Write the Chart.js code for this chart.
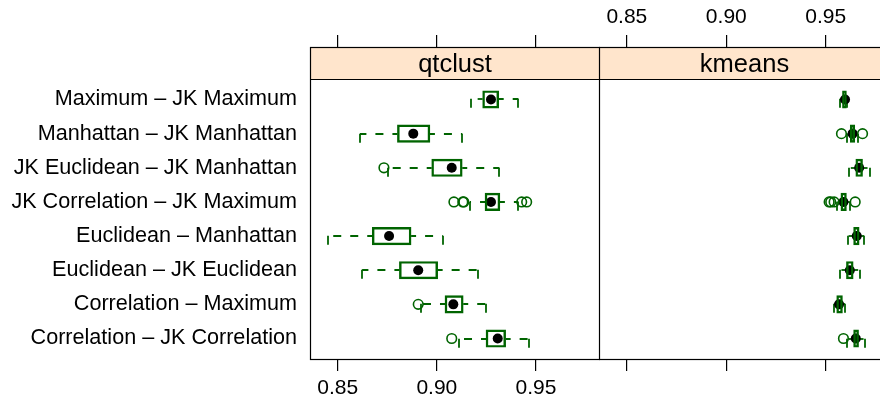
<!DOCTYPE html>
<html>
<head>
<meta charset="utf-8">
<script src="https://cdn.jsdelivr.net/npm/chart.js@4.4.1/dist/chart.umd.min.js"></script>
<style>
  html, body { margin: 0; padding: 0; background: #fff; overflow: hidden; }
  #wrap { position: relative; width: 880px; height: 409px; overflow: hidden; }
  #wrap canvas { position: absolute; top: 0; }
</style>
</head>
<body>
<div id="wrap">
  <canvas id="qtPanel" width="600" height="409" style="left:0"></canvas>
  <canvas id="kmPanel" width="290" height="409" style="left:599px"></canvas>
</div>
<script>
// Row labels, top to bottom
const pairs = [
  'Maximum – JK Maximum',
  'Manhattan – JK Manhattan',
  'JK Euclidean – JK Manhattan',
  'JK Correlation – JK Maximum',
  'Euclidean – Manhattan',
  'Euclidean – JK Euclidean',
  'Correlation – Maximum',
  'Correlation – JK Correlation'
];
const xTicks = [0.85, 0.90, 0.95];

// qtclust: whisker ends, quartiles, medians, outliers
const qtLow    = [0.9171, 0.8612, 0.8755, 0.9167, 0.8450, 0.8623, 0.8919, 0.9110];
const qtQ1     = [0.9231, 0.8801, 0.8974, 0.9243, 0.8674, 0.8811, 0.9041, 0.9248];
const qtMedian = [0.9273, 0.8881, 0.9075, 0.9273, 0.8759, 0.8906, 0.9083, 0.9307];
const qtQ3     = [0.9312, 0.8965, 0.9128, 0.9318, 0.8870, 0.9004, 0.9133, 0.9347];
const qtHigh   = [0.9411, 0.9128, 0.9315, 0.9411, 0.9030, 0.9209, 0.9246, 0.9466];
const qtOut    = [[], [], [0.8733], [0.9086, 0.9131, 0.9136, 0.9428, 0.9453], [], [], [0.8906], [0.9075]];

// kmeans
const kmLow    = [0.9572, 0.9609, 0.9618, 0.9559, 0.9614, 0.9572, 0.9542, 0.9609];
const kmQ1     = [0.9584, 0.9623, 0.9651, 0.9576, 0.9640, 0.9604, 0.9555, 0.9640];
const kmMedian = [0.9597, 0.9635, 0.9668, 0.9589, 0.9656, 0.9621, 0.9567, 0.9651];
const kmQ3     = [0.9604, 0.9646, 0.9685, 0.9604, 0.9668, 0.9638, 0.9584, 0.9665];
const kmHigh   = [0.9609, 0.9660, 0.9723, 0.9621, 0.9693, 0.9671, 0.9597, 0.9698];
const kmOut    = [[], [0.9579, 0.9685], [], [0.9517, 0.9525, 0.9542, 0.9648], [], [], [], [0.9589]];

const GREEN = '#006400';
const STRIP = '#ffe5cc';
const FONT = '"Liberation Sans", Arial, sans-serif';
const BOX_H = 17.5;

Chart.defaults.font.family = FONT;
Chart.defaults.font.size = 21;
Chart.defaults.color = '#000';

// dashed whiskers with dashed end caps
function umbrellaPlugin(lo, q1, q3, hi) {
  return {
    id: 'umbrella',
    beforeDatasetsDraw(chart) {
      const { ctx, scales: { x, y } } = chart;
      const half = BOX_H / 2;
      ctx.save();
      ctx.strokeStyle = GREEN;
      ctx.lineWidth = 1.8;
      ctx.lineCap = 'butt';
      q1.forEach((_, i) => {
        const yc = Math.round(y.getPixelForValue(i));
        [[q1[i], lo[i]], [q3[i], hi[i]]].forEach(([from, to]) => {
          const x0 = x.getPixelForValue(from);
          const x1 = x.getPixelForValue(to);
          ctx.setLineDash([8, 9]);
          ctx.lineDashOffset = 3;
          ctx.beginPath();
          ctx.moveTo(x0, yc);
          ctx.lineTo(x1, yc);
          ctx.stroke();
          // cap runs bottom to top, so only its lower half is inked
          const xc = Math.round(x1);
          ctx.setLineDash([9, 10]);
          ctx.lineDashOffset = 0;
          ctx.beginPath();
          ctx.moveTo(xc, yc + half);
          ctx.lineTo(xc, yc - half);
          ctx.stroke();
        });
      });
      ctx.restore();
    }
  };
}

// strip with panel name, plus the panel frame
function stripPlugin(name) {
  return {
    id: 'strip',
    afterDraw(chart) {
      const { ctx, chartArea: a } = chart;
      const left = Math.round(a.left) + 0.5;
      const right = Math.round(a.right) + 0.5;
      const top = 47.5;
      const stripBottom = Math.round(a.top) + 0.5;
      const bottom = Math.round(a.bottom) + 0.5;
      ctx.save();
      ctx.fillStyle = STRIP;
      ctx.fillRect(left, top, right - left, stripBottom - top);
      ctx.strokeStyle = '#000';
      ctx.lineWidth = 1.2;
      ctx.strokeRect(left, top, right - left, bottom - top);
      ctx.beginPath();
      ctx.moveTo(left, stripBottom);
      ctx.lineTo(right, stripBottom);
      ctx.stroke();
      ctx.fillStyle = '#000';
      ctx.font = '25.5px ' + FONT;
      ctx.textAlign = 'center';
      ctx.textBaseline = 'middle';
      ctx.fillText(name, (left + right) / 2, (top + stripBottom) / 2 + 1);
      ctx.restore();
    }
  };
}

function xAxis(position, showLabels, tickLen, fitHeight) {
  return {
    type: 'linear',
    axis: 'x',
    position: position,
    offset: false,
    min: 0.836,
    max: 0.9818,
    afterBuildTicks: s => { s.ticks = xTicks.map(v => ({ value: v })); },
    afterFit: s => { s.height = fitHeight; s.paddingLeft = 0; s.paddingRight = 0; },
    border: { display: false },
    grid: { offset: false, drawOnChartArea: false, drawTicks: true, tickLength: tickLen, color: '#000', lineWidth: 1.2 },
    ticks: {
      display: showLabels,
      padding: 5,
      maxRotation: 0,
      callback: v => v.toFixed(2)
    }
  };
}

function makePanel(id, name, lo, q1, med, q3, hi, out, isLeft) {
  const boxes = q1.map((v, i) => ({ x: [v, q3[i]], y: i }));
  const medians = med.map((v, i) => ({ x: v, y: i }));
  const outliers = [];
  out.forEach((list, i) => list.forEach(v => outliers.push({ x: v, y: i })));

  return new Chart(document.getElementById(id), {
    type: 'bar',
    data: {
      datasets: [
        {
          type: 'bar',
          indexAxis: 'y',
          data: boxes,
          xAxisID: 'x',
          yAxisID: 'y',
          barThickness: BOX_H,
          backgroundColor: 'rgba(0,0,0,0)',
          borderColor: GREEN,
          borderWidth: 1.8,
          borderSkipped: false
        },
        {
          type: 'scatter',
          data: outliers,
          xAxisID: 'x',
          yAxisID: 'y',
          pointRadius: 4.8,
          backgroundColor: 'rgba(0,0,0,0)',
          borderColor: GREEN,
          borderWidth: 1.6
        },
        {
          type: 'scatter',
          data: medians,
          xAxisID: 'x',
          yAxisID: 'y',
          pointRadius: 5,
          backgroundColor: '#000',
          borderWidth: 0
        }
      ]
    },
    options: {
      responsive: false,
      animation: false,
      events: [],
      layout: { autoPadding: false, padding: { left: 0, right: isLeft ? 1 : 0, top: 0, bottom: 0 } },
      plugins: { legend: { display: false }, tooltip: { enabled: false } },
      scales: {
        x: xAxis('bottom', isLeft, 12, 50),
        x2: xAxis('top', !isLeft, 44, 79),
        y: {
          type: 'linear',
          display: isLeft,
          offset: false,
          reverse: true,
          min: -0.6,
          max: 7.6,
          afterBuildTicks: s => { s.ticks = pairs.map((_, i) => ({ value: i })); },
          afterFit: s => { if (isLeft) s.width = 310; },
          border: { display: false },
          grid: { display: false, drawTicks: false, offset: false },
          ticks: {
            padding: 13,
            autoSkip: false,
            font: { size: 21.6 },
            callback: v => pairs[v]
          }
        }
      }
    },
    plugins: [umbrellaPlugin(lo, q1, q3, hi), stripPlugin(name)]
  });
}

makePanel('qtPanel', 'qtclust', qtLow, qtQ1, qtMedian, qtQ3, qtHigh, qtOut, true);
makePanel('kmPanel', 'kmeans', kmLow, kmQ1, kmMedian, kmQ3, kmHigh, kmOut, false);
</script>
</body>
</html>
